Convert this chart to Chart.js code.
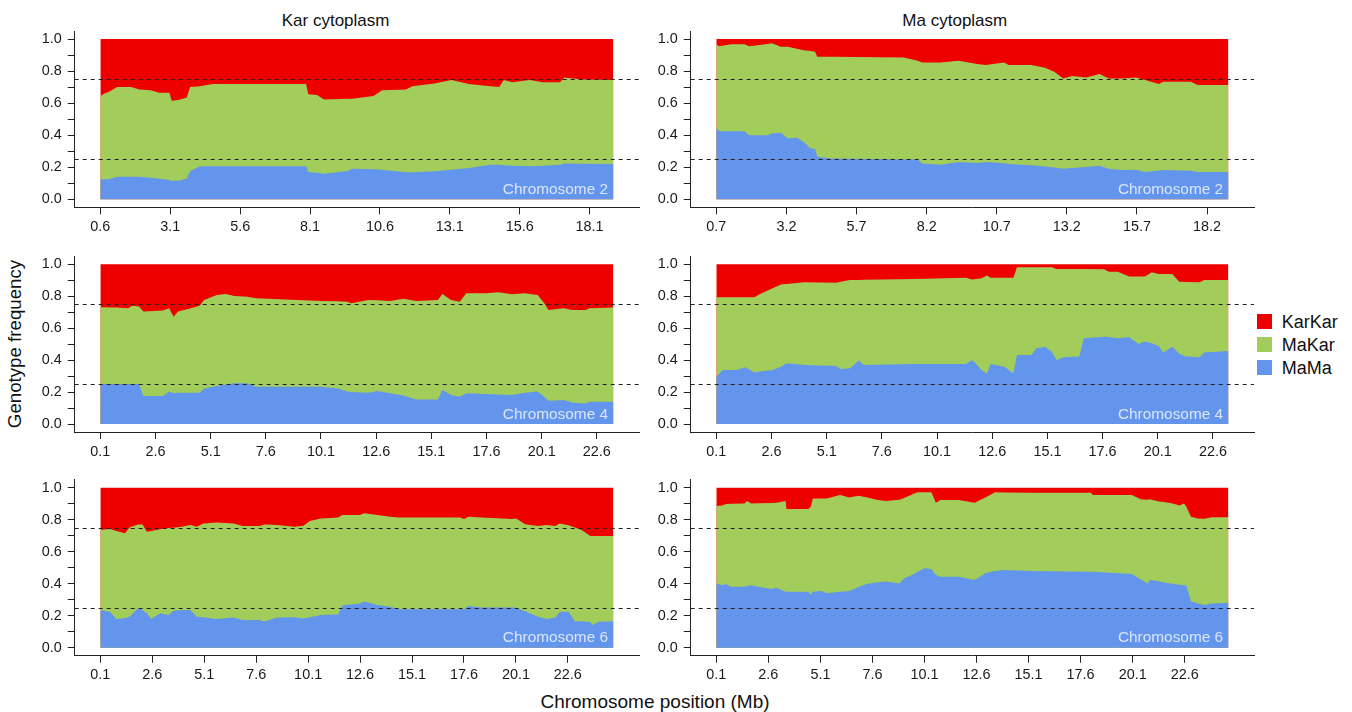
<!DOCTYPE html>
<html>
<head>
<meta charset="utf-8">
<script src="https://cdn.jsdelivr.net/npm/chart.js@4.4.1/dist/chart.umd.min.js"></script>
<style>
html,body{margin:0;padding:0;background:#fff;}
#wrap{position:relative;width:1352px;height:712px;overflow:hidden;font-family:'Liberation Sans',Arial,sans-serif;color:#111;}
#wrap canvas{position:absolute;}
.t{position:absolute;white-space:nowrap;line-height:1;}
.sq{position:absolute;width:15px;height:15px;}
</style>
</head>
<body>
<div id="wrap">
  <div class="t" style="left:335.6px;top:12.3px;font-size:17px;transform:translateX(-50%);">Kar cytoplasm</div>
  <div class="t" style="left:954.8px;top:12.3px;font-size:17px;transform:translateX(-50%);">Ma cytoplasm</div>
  <div class="t" style="left:15px;top:344px;font-size:18.7px;transform:translate(-50%,-50%) rotate(-90deg);">Genotype frequency</div>
  <div class="t" style="left:655px;top:692.2px;font-size:19px;transform:translateX(-50%);">Chromosome position (Mb)</div>
  <div class="sq" style="left:1257px;top:314px;background:#EE0000;"></div>
  <div class="sq" style="left:1257px;top:337px;background:#A2CD5A;"></div>
  <div class="sq" style="left:1257px;top:360px;background:#6495ED;"></div>
  <div class="t" style="left:1281.7px;top:312.5px;font-size:18px;">KarKar</div>
  <div class="t" style="left:1281.7px;top:335.5px;font-size:18px;">MaKar</div>
  <div class="t" style="left:1281.7px;top:358.5px;font-size:18px;">MaMa</div>
</div>
<script>
// ---------------- data (genotype frequencies along each chromosome, Mb) ----------------
const genotypes = ['KarKar', 'MaKar', 'MaMa'];
const yTicks = [0, 0.1, 0.2, 0.3, 0.4, 0.5, 0.6, 0.7, 0.8, 0.9, 1.0];
const guideLevels = [0.25, 0.75];

// Chromosome 2, Kar cytoplasm
const chr2KarTicks = [0.6, 3.1, 5.6, 8.1, 10.6, 13.1, 15.6, 18.1];
const chr2KarPos = [0.6,0.75,0.9,1.2,1.7,2.0,2.4,2.7,3.07,3.15,3.4,3.69,3.81,4.16,4.62,7.96,8.04,8.35,8.6,9.44,9.6,10.37,10.68,11.53,11.76,12.54,13.16,13.78,14.56,14.87,15.03,15.34,15.96,16.42,17.04,17.2,17.82,18.95];
const chr2KarMaMa = [.125,.125,.125,.14,.14,.14,.135,.13,.12,.115,.115,.13,.175,.206,.206,.206,.17,.165,.16,.177,.19,.188,.185,.168,.168,.175,.185,.195,.215,.215,.212,.21,.206,.21,.215,.223,.222,.22];
const chr2KarMaKar = [.519,.535,.545,.56,.56,.545,.545,.535,.545,.50,.505,.505,.525,.50,.514,.514,.486,.485,.463,.45,.437,.456,.495,.517,.538,.548,.559,.525,.491,.485,.532,.52,.538,.52,.515,.537,.526,.524];
const chr2KarKarKar = [.356,.34,.33,.30,.30,.315,.32,.335,.335,.385,.38,.365,.30,.294,.28,.28,.344,.35,.377,.373,.373,.356,.32,.315,.294,.277,.256,.28,.294,.30,.256,.27,.256,.27,.27,.24,.252,.256];

// Chromosome 2, Ma cytoplasm
const chr2MaTicks = [0.7, 3.2, 5.7, 8.2, 10.7, 13.2, 15.7, 18.2];
const chr2MaPos = [0.7,0.81,1.22,1.71,1.87,2.52,2.68,3.0,3.25,3.57,3.82,4.06,4.22,4.3,4.79,7.39,7.88,8.04,8.69,9.34,10.0,10.31,10.96,11.12,11.93,12.42,12.75,13.07,13.39,13.88,14.37,14.69,15.18,15.67,15.99,16.48,16.64,17.62,17.86,18.96];
const chr2MaMaMa = [.446,.425,.425,.425,.40,.40,.41,.415,.38,.385,.358,.317,.313,.265,.254,.25,.248,.223,.215,.233,.227,.233,.225,.22,.213,.205,.198,.19,.195,.202,.21,.19,.183,.185,.171,.18,.182,.178,.171,.171];
const chr2MaMaKar = [.519,.53,.542,.542,.555,.569,.563,.537,.572,.555,.572,.608,.608,.625,.636,.635,.617,.631,.639,.632,.617,.605,.629,.618,.625,.615,.598,.564,.574,.558,.571,.564,.571,.575,.573,.539,.551,.555,.542,.542];
const chr2MaKarKar = [.035,.045,.033,.033,.045,.031,.027,.048,.048,.06,.07,.075,.079,.11,.11,.115,.135,.146,.146,.135,.156,.162,.146,.162,.162,.18,.204,.246,.231,.24,.219,.246,.246,.24,.256,.281,.267,.267,.287,.287];

// Chromosome 4
const chr4Ticks = [0.1, 2.6, 5.1, 7.6, 10.1, 12.6, 15.1, 17.6, 20.1, 22.6];
const chr4KarPos = [0.1,0.87,1.36,1.55,1.85,2.05,2.93,3.22,3.42,3.62,4.21,4.6,4.8,5.38,5.78,6.17,6.76,7.15,10.1,10.89,11.28,11.47,12.26,12.65,13.24,13.83,14.42,15.4,15.6,15.99,16.39,16.68,17.57,18.15,18.74,19.33,19.92,20.22,20.41,21.1,21.49,22.08,22.28,23.35];
const chr4KarMaMa = [.25,.25,.25,.25,.25,.175,.175,.203,.192,.196,.196,.196,.223,.238,.248,.255,.255,.234,.234,.223,.203,.20,.195,.207,.192,.178,.154,.154,.213,.182,.171,.192,.188,.185,.182,.196,.203,.171,.146,.15,.134,.129,.14,.14];
const chr4KarMaKar = [.481,.479,.474,.491,.485,.529,.535,.521,.48,.508,.528,.545,.554,.57,.566,.547,.542,.553,.536,.545,.563,.556,.582,.568,.578,.607,.616,.623,.601,.594,.595,.626,.63,.64,.63,.622,.605,.585,.568,.574,.58,.585,.584,.589];
const chr4KarKarKar = [.269,.271,.276,.259,.265,.296,.29,.276,.328,.296,.276,.259,.223,.192,.186,.198,.203,.213,.23,.232,.234,.244,.223,.225,.23,.215,.23,.223,.186,.224,.234,.182,.182,.175,.188,.182,.192,.244,.286,.276,.286,.286,.276,.271];

const chr4MaPos = [0.1,0.39,1.0,1.42,1.83,2.08,2.65,3.06,3.27,4.09,5.53,5.74,6.15,6.56,6.77,9.03,11.4,11.7,12.12,12.36,12.53,13.15,13.56,13.72,14.38,14.59,15.0,15.3,15.51,15.82,16.54,16.75,17.67,17.88,18.29,18.8,19.22,19.52,19.83,20.14,20.35,20.76,21.07,21.38,22.0,22.2,23.3];
const chr4MaMaMa = [.296,.338,.338,.355,.322,.328,.338,.36,.38,.37,.363,.344,.349,.397,.37,.376,.376,.40,.338,.317,.376,.359,.317,.432,.432,.474,.484,.453,.40,.418,.422,.537,.547,.545,.537,.545,.501,.516,.505,.489,.447,.484,.44,.422,.418,.447,.457];
const chr4MaMaKar = [.497,.455,.455,.438,.471,.486,.512,.515,.497,.517,.522,.546,.553,.505,.533,.532,.54,.505,.574,.613,.54,.557,.599,.549,.549,.507,.497,.528,.571,.553,.548,.433,.422,.409,.417,.378,.422,.407,.445,.45,.492,.455,.451,.467,.469,.455,.445];
const chr4MaKarKar = [.207,.207,.207,.207,.207,.186,.15,.125,.123,.113,.115,.11,.098,.098,.097,.092,.084,.095,.088,.07,.084,.084,.084,.019,.019,.019,.019,.019,.029,.029,.03,.03,.031,.046,.046,.077,.077,.077,.05,.061,.061,.061,.109,.111,.113,.098,.098];

// Chromosome 6
const chr6Ticks = [0.1, 2.6, 5.1, 7.6, 10.1, 12.6, 15.1, 17.6, 20.1, 22.6];
const chr6KarPos = [0.1,0.56,0.87,1.29,1.5,1.92,2.13,2.34,2.55,2.97,3.38,3.59,4.01,4.43,4.74,5.06,5.69,6.52,6.94,7.78,7.99,8.61,9.45,9.87,10.18,10.71,11.54,11.75,12.59,12.8,13.43,14.05,14.47,17.4,17.61,17.82,18.45,19.91,20.12,20.54,21.17,21.58,22.0,22.21,22.63,22.94,23.26,23.68,23.78,24.1,24.79];
const chr6KarMaMa = [.235,.225,.179,.185,.194,.246,.235,.215,.179,.215,.204,.229,.235,.235,.194,.19,.179,.188,.173,.173,.163,.188,.19,.183,.19,.204,.208,.263,.277,.288,.267,.256,.24,.24,.24,.26,.252,.252,.25,.228,.194,.179,.188,.225,.225,.163,.165,.16,.142,.163,.163];
const chr6KarMaKar = [.50,.517,.551,.53,.558,.524,.535,.51,.551,.525,.544,.521,.521,.532,.562,.587,.604,.589,.587,.587,.607,.579,.566,.579,.602,.604,.605,.566,.552,.552,.562,.563,.573,.573,.564,.559,.561,.552,.558,.543,.566,.588,.572,.552,.54,.589,.57,.538,.556,.535,.535];
const chr6KarKarKar = [.265,.258,.27,.285,.248,.23,.23,.275,.27,.26,.252,.25,.244,.233,.244,.223,.217,.223,.24,.24,.23,.233,.244,.238,.208,.192,.187,.171,.171,.16,.171,.181,.187,.187,.196,.181,.187,.196,.192,.229,.24,.233,.24,.223,.235,.248,.265,.302,.302,.302,.302];

const chr6MaPos = [0.1,0.36,0.58,0.8,1.46,1.57,1.78,2.11,2.77,2.99,3.43,3.47,4.52,4.63,4.74,5.18,5.4,6.05,6.49,6.93,7.36,7.8,8.24,8.9,9.12,9.55,9.77,10.1,10.43,10.65,10.87,11.74,12.51,13.05,13.49,13.93,15.24,18.09,18.2,20.06,20.49,20.82,20.93,21.37,21.59,22.03,22.35,22.57,22.68,22.9,23.23,23.56,23.89,24.7];
const chr6MaMaMa = [.402,.39,.398,.381,.381,.385,.39,.381,.367,.375,.35,.35,.35,.333,.35,.354,.34,.35,.354,.38,.40,.408,.413,.402,.433,.458,.475,.496,.492,.454,.444,.444,.423,.467,.479,.485,.479,.475,.474,.46,.427,.402,.423,.415,.408,.40,.394,.39,.388,.288,.277,.267,.277,.281];
const chr6MaMaKar = [.483,.498,.50,.519,.521,.532,.512,.522,.538,.531,.567,.517,.517,.547,.583,.579,.593,.604,.584,.57,.538,.517,.504,.523,.502,.502,.496,.475,.479,.452,.479,.479,.483,.473,.492,.485,.49,.494,.48,.494,.501,.523,.505,.498,.502,.502,.494,.512,.493,.531,.531,.539,.538,.534];
const chr6MaKarKar = [.115,.112,.102,.10,.098,.083,.098,.097,.095,.094,.083,.133,.133,.12,.067,.067,.067,.046,.062,.05,.062,.075,.083,.075,.065,.04,.029,.029,.029,.094,.077,.077,.094,.06,.029,.03,.031,.031,.046,.046,.072,.075,.072,.087,.09,.098,.112,.098,.119,.181,.192,.194,.185,.185];

// ---------------- styling / layout ----------------
const COLORS = { KarKar: '#EE0000', MaKar: '#A2CD5A', MaMa: '#6495ED' };
const AXIS = '#222';
const FONT = "'Liberation Sans', Arial, sans-serif";
Chart.defaults.font.family = FONT;

const COLS = [
  { cl: 0,   cw: 660, yw: 74.7, padR: 21 },
  { cl: 645, cw: 640, yw: 45.7, padR: 31 }
];
const ROWS = [
  { ct: 12,  ch: 235, padT: 19,   padB: 9.7 },
  { ct: 237, ch: 235, padT: 19.3, padB: 10 },
  { ct: 460, ch: 235, padT: 19.7, padB: 9.3 }
];

const panels = [
  { row: 0, col: 0, label: 'Chromosome 2', pos: chr2KarPos, MaMa: chr2KarMaMa, MaKar: chr2KarMaKar, KarKar: chr2KarKarKar, ticks: chr2KarTicks },
  { row: 0, col: 1, label: 'Chromosome 2', pos: chr2MaPos,  MaMa: chr2MaMaMa,  MaKar: chr2MaMaKar,  KarKar: chr2MaKarKar,  ticks: chr2MaTicks },
  { row: 1, col: 0, label: 'Chromosome 4', pos: chr4KarPos, MaMa: chr4KarMaMa, MaKar: chr4KarMaKar, KarKar: chr4KarKarKar, ticks: chr4Ticks },
  { row: 1, col: 1, label: 'Chromosome 4', pos: chr4MaPos,  MaMa: chr4MaMaMa,  MaKar: chr4MaMaKar,  KarKar: chr4MaKarKar,  ticks: chr4Ticks },
  { row: 2, col: 0, label: 'Chromosome 6', pos: chr6KarPos, MaMa: chr6KarMaMa, MaKar: chr6KarMaKar, KarKar: chr6KarKarKar, ticks: chr6Ticks },
  { row: 2, col: 1, label: 'Chromosome 6', pos: chr6MaPos,  MaMa: chr6MaMaMa,  MaKar: chr6MaMaKar,  KarKar: chr6MaKarKar,  ticks: chr6Ticks }
];

const guides = {
  id: 'guides',
  afterDatasetsDraw(chart, args, opts) {
    const { ctx, chartArea: a, scales: { x, y } } = chart;
    ctx.save();
    ctx.strokeStyle = AXIS;
    ctx.lineWidth = 1.2;
    ctx.setLineDash([4, 4]);
    guideLevels.forEach(v => {
      const py = Math.round(y.getPixelForValue(v)) + 0.5;
      ctx.beginPath();
      ctx.moveTo(a.left, py);
      ctx.lineTo(a.right, py);
      ctx.stroke();
    });
    ctx.setLineDash([]);
    ctx.font = '15.4px ' + FONT;
    ctx.fillStyle = 'rgba(255,255,255,0.76)';
    ctx.textAlign = 'right';
    ctx.textBaseline = 'alphabetic';
    ctx.fillText(opts.label, x.getPixelForValue(opts.end) - 5.3, y.getPixelForValue(0.034));
    ctx.restore();
  }
};

const wrap = document.getElementById('wrap');
panels.forEach(p => {
  const C = COLS[p.col], R = ROWS[p.row];
  const cv = document.createElement('canvas');
  cv.width = C.cw; cv.height = R.ch;
  cv.style.left = C.cl + 'px'; cv.style.top = R.ct + 'px';
  cv.style.width = C.cw + 'px'; cv.style.height = R.ch + 'px';
  wrap.appendChild(cv);
  const start = p.pos[0], end = p.pos[p.pos.length - 1], len = end - start;
  const mk = arr => p.pos.map((x, i) => ({ x: x, y: arr[i] }));
  const ds = (name) => ({
    label: name, data: mk(p[name]), fill: 'origin',
    backgroundColor: COLORS[name], borderColor: 'rgba(0,0,0,0)', borderWidth: 1,
    pointRadius: 0, tension: 0
  });
  new Chart(cv, {
    type: 'line',
    data: { datasets: [ds('MaMa'), ds('MaKar'), ds('KarKar')] },
    options: {
      responsive: false, animation: false, devicePixelRatio: 1,
      layout: { padding: { left: 0, right: C.padR, top: R.padT, bottom: R.padB } },
      plugins: { legend: { display: false }, tooltip: { enabled: false }, guides: { label: p.label, end: end } },
      scales: {
        x: {
          type: 'linear', min: start - 0.05 * len, max: end + 0.05 * len,
          afterBuildTicks: s => { s.ticks = p.ticks.map(v => ({ value: v })); },
          afterFit: s => { s.height = 30; },
          ticks: { autoSkip: false, maxRotation: 0, padding: 4, color: '#1a1a1a', font: { size: 14.4 },
                   callback: v => Number(v).toFixed(1) },
          grid: { display: true, drawOnChartArea: false, drawTicks: true, tickLength: 7, color: AXIS, tickColor: AXIS, lineWidth: 1 },
          border: { display: true, color: AXIS, width: 1 }
        },
        y: {
          stacked: true, min: -0.05, max: 1.05,
          afterBuildTicks: s => { s.ticks = yTicks.map(v => ({ value: v })); },
          afterFit: s => { s.width = C.yw; },
          ticks: { autoSkip: false, padding: 6, color: '#1a1a1a', font: { size: 14.4 },
                   callback: v => (Math.round(v * 10) % 2 === 0 ? Number(v).toFixed(1) : '') },
          grid: { display: true, drawOnChartArea: false, drawTicks: true, tickLength: 7, color: AXIS, tickColor: AXIS, lineWidth: 1 },
          border: { display: true, color: AXIS, width: 1 }
        }
      }
    },
    plugins: [guides]
  });
});
</script>
</body>
</html>
